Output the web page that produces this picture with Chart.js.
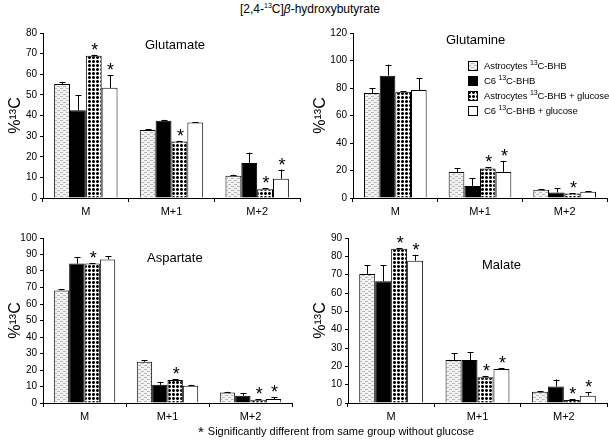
<!DOCTYPE html>
<html>
<head>
<meta charset="utf-8">
<script src="https://cdn.jsdelivr.net/npm/chart.js@4/dist/chart.umd.min.js"></script>
<style>
  body { margin: 0; background: #fff; font-family: "Liberation Sans", Arial, sans-serif; }
  #wrap { position: relative; width: 609px; height: 445px; overflow: hidden; }
  canvas.panel { position: absolute; }
  .lbl { position: absolute; font-size: 13px; color: #000; white-space: nowrap; }
  #title { position: absolute; left: 240px; top: 2px; font-size: 12px; white-space: nowrap; }
  #legend { position: absolute; left: 468px; top: 58px; font-size: 9.5px; letter-spacing: -0.1px; }
  #legend div { height: 15px; display: flex; align-items: center; white-space: nowrap; }
  #legend canvas { margin-right: 6px; }
  #foot { position: absolute; left: 198px; top: 421px; font-size: 11px; white-space: nowrap; }
  #foot span { font-size: 15px; position: relative; top: 2px; margin-right: 4px; }
  sup { font-size: 7px; }
</style>
</head>
<body>
<div id="wrap">
  <div id="title">[2,4-<sup>13</sup>C]<i>β</i>-hydroxybutyrate</div>
  <canvas class="panel" id="c1" width="305" height="200" style="left:0;top:20px"></canvas>
  <canvas class="panel" id="c2" width="304" height="200" style="left:305px;top:20px"></canvas>
  <canvas class="panel" id="c3" width="305" height="200" style="left:0;top:225px"></canvas>
  <canvas class="panel" id="c4" width="304" height="200" style="left:305px;top:225px"></canvas>
  <div class="lbl" style="left:145px;top:37px">Glutamate</div>
  <div class="lbl" style="left:446px;top:32px">Glutamine</div>
  <div class="lbl" style="left:147px;top:250px">Aspartate</div>
  <div class="lbl" style="left:482px;top:257px">Malate</div>
  <div id="legend"></div>
  <div id="foot"><span>*</span>Significantly different from same group without glucose</div>
</div>
<script>
// ---- data ----
const categories = ["M", "M+1", "M+2"];
const seriesLabels = [
  "Astrocytes ¹³C-BHB",
  "C6 ¹³C-BHB",
  "Astrocytes ¹³C-BHB + glucose",
  "C6 ¹³C-BHB + glucose"
];
const legendHtml = [
  "Astrocytes <sup>13</sup>C-BHB",
  "C6 <sup>13</sup>C-BHB",
  "Astrocytes <sup>13</sup>C-BHB + glucose",
  "C6 <sup>13</sup>C-BHB + glucose"
];

// one row per series, one value per category
const glutamateMean = [[55.3, 33, 10.8], [42.5, 37.4, 17], [69, 27.4, 4.3], [53.4, 36.6, 9.3]];
const glutamateSD   = [[1, 0.4, 0.5], [7.5, 0.5, 5], [0.5, 0.3, 0.4], [6, 0.3, 4.5]];
const glutamateSig  = [[0, 0, 0], [0, 0, 0], [1, 1, 1], [1, 0, 1]];

const glutamineMean = [[76.3, 19, 6], [89, 8.8, 4], [77.3, 21.5, 3.3], [78.5, 19, 4.6]];
const glutamineSD   = [[3.7, 2.5, 0.6], [8, 5.5, 3.2], [0.5, 0.8, 0.3], [8.5, 8, 0.3]];
const glutamineSig  = [[0, 0, 0], [0, 0, 0], [0, 1, 1], [0, 1, 0]];

const aspartateMean = [[68.2, 25, 6.4], [84.5, 11, 4.4], [84.5, 14, 2], [87, 10.5, 2.4]];
const aspartateSD   = [[0.8, 0.8, 0.4], [3.7, 1.8, 1.4], [0.4, 0.3, 0.3], [2, 0.5, 1.2]];
const aspartateSig  = [[0, 0, 0], [0, 0, 0], [1, 1, 1], [0, 0, 1]];

const malateMean = [[70.4, 23.5, 6.2], [66.4, 23.4, 9], [84.2, 14, 1.6], [77.6, 18.5, 4]];
const malateSD   = [[4.6, 3.6, 0.4], [8.8, 4.4, 3.8], [0.4, 0.8, 0.4], [3.2, 0.6, 1.9]];
const malateSig  = [[0, 0, 0], [0, 0, 0], [1, 1, 1], [1, 1, 1]];

// ---- fills ----
function dashTile() {
  const c = document.createElement("canvas");
  c.width = 6; c.height = 4;
  const x = c.getContext("2d");
  x.fillStyle = "#f2f2f2"; x.fillRect(0, 0, 6, 4);
  x.fillStyle = "#b8b8b8";
  x.fillRect(0, 0, 3, 1);
  x.fillRect(3, 2, 3, 1);
  return c;
}
function dotTile() {
  const c = document.createElement("canvas");
  c.width = 4; c.height = 4;
  const x = c.getContext("2d");
  x.fillStyle = "#fff"; x.fillRect(0, 0, 4, 4);
  x.fillStyle = "#000"; x.fillRect(0, 0, 3, 3);
  x.fillStyle = "#777";
  x.fillRect(0, 0, 1, 1); x.fillRect(2, 0, 1, 1);
  x.fillRect(0, 2, 1, 1); x.fillRect(2, 2, 1, 1);
  return c;
}
const ctx0 = document.createElement("canvas").getContext("2d");
const fills = [
  ctx0.createPattern(dashTile(), "repeat"),
  "#000",
  ctx0.createPattern(dotTile(), "repeat"),
  "#fff"
];

// ---- error bars + stars ----
const errorBars = {
  id: "errorBars",
  afterDatasetsDraw(chart) {
    const c = chart.ctx;
    const y = chart.scales.y;
    c.save();
    chart.data.datasets.forEach((ds, i) => {
      const meta = chart.getDatasetMeta(i);
      meta.data.forEach((bar, j) => {
        const top = y.getPixelForValue(ds.data[j] + ds.sd[j]);
        c.strokeStyle = "#000";
        c.lineWidth = 1;
        c.beginPath();
        c.moveTo(Math.round(bar.x) + 0.5, bar.y);
        c.lineTo(Math.round(bar.x) + 0.5, top);
        c.moveTo(Math.round(bar.x) - 2.5, Math.round(top) + 0.5);
        c.lineTo(Math.round(bar.x) + 3.5, Math.round(top) + 0.5);
        c.stroke();
        if (ds.sig[j]) {
          c.fillStyle = "#000";
          c.font = "18px 'Liberation Sans', Arial, sans-serif";
          c.textAlign = "center";
          c.textBaseline = "alphabetic";
          c.fillText("*", bar.x + 1, top + 1);
        }
      });
    });
    c.restore();
  }
};

Chart.defaults.font.family = "'Liberation Sans', Arial, sans-serif";
Chart.defaults.color = "#000";

function makeChart(id, mean, sd, sig, yMax, yStep, yWidth, pad) {
  new Chart(document.getElementById(id), {
    type: "bar",
    data: {
      labels: categories,
      datasets: mean.map((m, i) => ({
        label: seriesLabels[i],
        data: m,
        sd: sd[i],
        sig: sig[i],
        backgroundColor: fills[i],
        borderColor: "#000",
        borderWidth: 1,
        categoryPercentage: 0.74,
        barPercentage: 1
      }))
    },
    options: {
      responsive: false,
      animation: false,
      layout: { padding: { top: 13, right: pad, left: 0, bottom: 0 } },
      plugins: { legend: { display: false }, tooltip: { enabled: false } },
      scales: {
        x: {
          afterFit(s) { s.height = 22; },
          grid: { drawOnChartArea: false, color: "#000", tickLength: 4 },
          border: { color: "#000" },
          ticks: { font: { size: 11 }, padding: 3 }
        },
        y: {
          min: 0, max: yMax,
          afterFit(s) { s.width = yWidth; },
          grid: { drawOnChartArea: false, color: "#000", tickLength: 3 },
          border: { color: "#000" },
          ticks: { stepSize: yStep, font: { size: 10 }, padding: 3 },
          title: { display: true, text: "%¹³C", font: { size: 16 }, padding: { top: 6, bottom: 0 } }
        }
      }
    },
    plugins: [errorBars]
  });
}

makeChart("c1", glutamateMean, glutamateSD, glutamateSig, 80, 10, 43, 5);
makeChart("c2", glutamineMean, glutamineSD, glutamineSig, 120, 20, 48, 2);
makeChart("c3", aspartateMean, aspartateSD, aspartateSig, 100, 10, 43, 13);
makeChart("c4", malateMean, malateSD, malateSig, 90, 10, 43, 2);

// ---- legend ----
const legend = document.getElementById("legend");
legendHtml.forEach((t, i) => {
  const row = document.createElement("div");
  const sw = document.createElement("canvas");
  sw.width = 10; sw.height = 10;
  const g = sw.getContext("2d");
  g.fillStyle = fills[i]; g.fillRect(0, 0, 10, 10);
  g.strokeStyle = "#000"; g.lineWidth = 1; g.strokeRect(0.5, 0.5, 9, 9);
  row.appendChild(sw);
  const sp = document.createElement("span");
  sp.innerHTML = t;
  row.appendChild(sp);
  legend.appendChild(row);
});
</script>
</body>
</html>
